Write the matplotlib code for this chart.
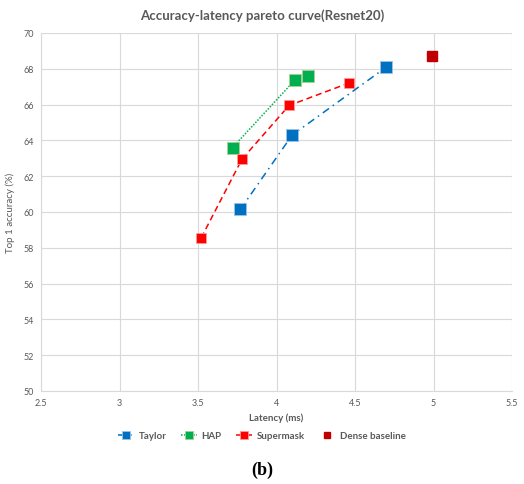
import matplotlib
matplotlib.use("Agg")
import matplotlib.pyplot as plt

plt.rcParams["font.family"] = ["Lato", "DejaVu Sans"]

# ── data ────────────────────────────────────────────────────────────────────
taylor_lat = [3.77, 4.10, 4.70]
taylor_acc = [60.15, 64.30, 68.10]
hap_lat = [3.72, 4.12, 4.20]
hap_acc = [63.60, 67.40, 67.60]
super_lat = [3.52, 3.78, 4.08, 4.46]
super_acc = [58.55, 62.95, 65.95, 67.20]
dense_lat = [4.99]
dense_acc = [68.72]

xticks = [2.5, 3, 3.5, 4, 4.5, 5, 5.5]
xtick_labels = ["2.5", "3", "3.5", "4", "4.5", "5", "5.5"]
yticks = list(range(50, 71, 2))

GREY = "#595959"

fig = plt.figure(figsize=(5.24, 4.85), dpi=100)
ax = fig.add_axes([41 / 524, 1 - 392 / 485, 471 / 524, 358 / 485])

ax.plot(taylor_lat, taylor_acc, color="#0070C0", lw=1.1, ls=(0, (5, 3, 1, 3)),
        marker="s", ms=8, mec="#9DC3E6", mew=0.6, label="Taylor")
ax.plot(hap_lat, hap_acc, color="#00B050", lw=1.1, ls=(0, (1, 1)),
        marker="s", ms=8, mec="#A9D18E", mew=0.6, label="HAP")
ax.plot(super_lat, super_acc, color="#FF0000", lw=1.1, ls=(0, (4, 2.5)),
        marker="s", ms=7.5, mec="#FF9999", mew=0.6, label="Supermask")
ax.plot(dense_lat, dense_acc, color="#C00000", lw=0, marker="s", ms=7,
        label="Dense baseline")

ax.set_xlim(2.5, 5.5)
ax.set_ylim(50, 70)
ax.set_xticks(xticks)
ax.set_xticklabels(xtick_labels)
ax.set_yticks(yticks)
ax.grid(color="#D9D9D9", lw=0.8)
ax.set_axisbelow(True)
for side in ["top", "right"]:
    ax.spines[side].set_visible(False)
for side in ["left", "bottom"]:
    ax.spines[side].set_color("#D9D9D9")
ax.tick_params(length=0, labelsize=6.5, colors=GREY, pad=5)

ax.set_xlabel("Latency (ms)", fontsize=7, color=GREY, fontweight="bold", labelpad=4)
ax.set_ylabel("Top 1 accuracy (%)", fontsize=7, color=GREY, labelpad=6)
fig.text(0.5, 1 - 16 / 485, "Accuracy-latency pareto curve(Resnet20)",
         ha="center", va="center", fontsize=9.5, fontweight="bold", color=GREY)

fig.legend(loc="center", bbox_to_anchor=(0.5, 1 - 437 / 485), ncol=4,
           frameon=False, prop={"size": 7, "weight": "bold"}, labelcolor=GREY,
           handlelength=1.6, handletextpad=0.5, columnspacing=1.5,
           markerscale=0.7)

fig.text(0.5, 1 - 470 / 485, "(b)", ha="center", va="center", fontsize=13,
         fontweight="bold", family="Liberation Serif")

fig.savefig("out.png", dpi=100)
